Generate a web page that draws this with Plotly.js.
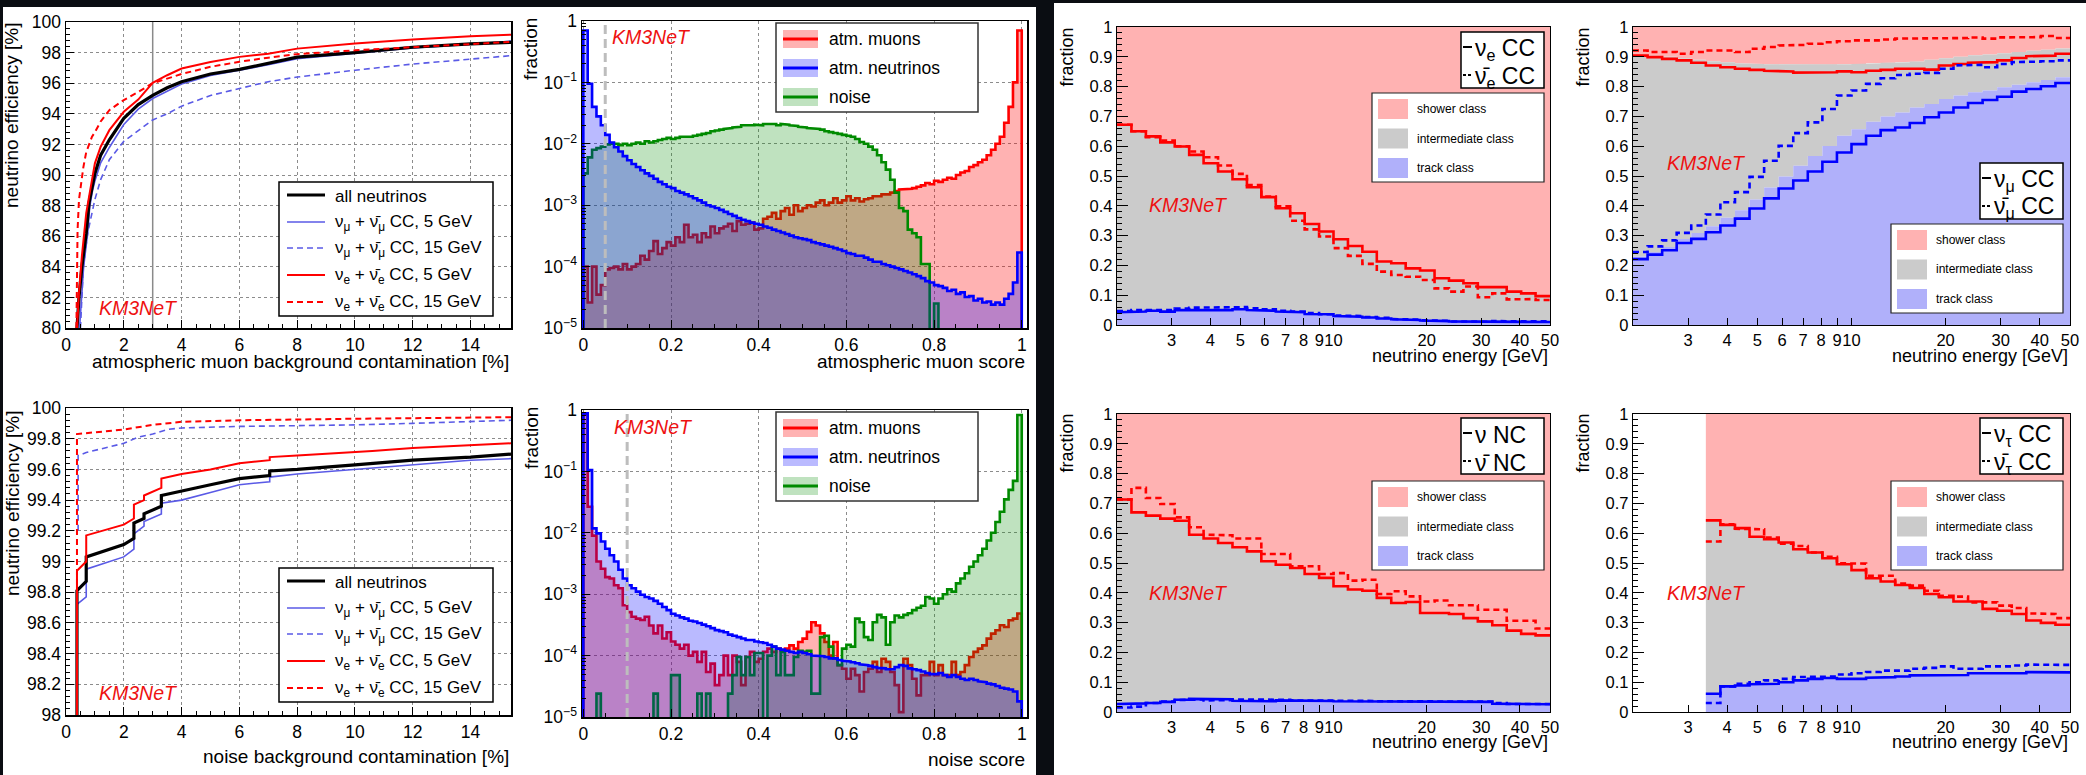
<!DOCTYPE html>
<html>
<head>
<meta charset="utf-8">
<script src="https://cdn.plot.ly/plotly-3.0.1.min.js"></script>
<style>
  html, body { margin: 0; padding: 0; background: #0a0d12; }
  #chart { width: 2086px; height: 775px; }
</style>
</head>
<body>
<div id="chart"></div>
<script>
// ---------------- ROC curves vs. atmospheric muon contamination [%] ----------------
const rocMuAllX    = [0.38,0.45,0.55,0.7,0.8,0.9,1.0,1.2,1.5,2.0,2.5,3.0,3.5,4,5,6,7,8,10,12,14,15.4];
const rocMuAllY    = [80,82,84,86.2,88.2,89.3,90.1,91.3,92.3,93.7,94.6,95.2,95.7,96.1,96.6,96.9,97.3,97.7,98.0,98.35,98.57,98.67];
const rocMuNumu5X  = [0.47,0.55,0.61,0.75,0.82,0.92,1.0,1.2,1.5,2.0,2.5,3.0,3.5,4,5,6,7,8,10,12,14,15.4];
const rocMuNumu5Y  = [80,82,84,86.2,87.9,89.0,89.6,90.8,91.8,93.3,94.3,95.0,95.5,95.95,96.5,96.85,97.2,97.6,97.95,98.3,98.55,98.75];
const rocMuNumu15X = [0.5,0.6,0.75,0.9,1.0,1.2,1.5,2.0,2.5,3.0,3.5,4,5,6,7,8,10,12,14,15.4];
const rocMuNumu15Y = [80,84,86.2,87.5,88.4,89.7,91.0,92.2,92.9,93.6,94.0,94.5,95.2,95.65,96.1,96.4,96.85,97.25,97.6,97.8];
const rocMuNue5X   = [0.38,0.45,0.55,0.7,0.8,0.9,1.0,1.2,1.5,2.0,2.5,3.0,3.5,4,5,6,7,8,10,12,14,15.4];
const rocMuNue5Y   = [80,82.3,84.7,87.5,88.6,89.7,90.76,91.85,92.93,94.13,94.93,96.02,96.52,96.96,97.39,97.72,97.93,98.26,98.59,98.85,99.07,99.17];
const rocMuNue15X  = [0.36,0.4,0.45,0.5,0.6,0.7,0.8,0.9,1.0,1.2,1.5,2.0,2.5,3.0,3.5,4,5,6,7,8,10,12,14,15.4];
const rocMuNue15Y  = [80,86.4,88.4,89.2,90.5,91.5,92.07,92.5,92.8,93.5,94.24,94.9,95.43,96.0,96.3,96.6,97.07,97.4,97.67,97.9,98.15,98.37,98.59,98.7];

// ---------------- ROC curves vs. noise contamination [%] ----------------
const rocNoiseStepX = [0.38,0.38,0.7,0.7,2.0,2.35,2.35,2.7,2.7,3.3,3.3,4,5,6,7.05,7.05,8,10,10.6,12,14,15.4];
const rocNoiseAllY    = [98.0,98.81,98.87,99.03,99.11,99.15,99.25,99.28,99.31,99.36,99.43,99.46,99.5,99.54,99.56,99.59,99.6,99.63,99.64,99.66,99.68,99.7];
const rocNoiseNumu5Y  = [98.0,98.72,98.77,98.95,99.03,99.08,99.18,99.23,99.26,99.31,99.38,99.4,99.45,99.5,99.52,99.55,99.57,99.6,99.61,99.63,99.66,99.67];
const rocNoiseNue5Y   = [98.0,98.94,99.0,99.17,99.24,99.28,99.37,99.4,99.43,99.48,99.54,99.57,99.6,99.64,99.66,99.68,99.69,99.71,99.72,99.74,99.76,99.77];
const rocNoiseNumu15X = [0.42,0.42,0.7,2,2.5,3,3.5,4,6,10,12,14,15.4];
const rocNoiseNumu15Y = [99.2,99.69,99.71,99.77,99.81,99.83,99.86,99.87,99.88,99.89,99.9,99.91,99.92];
const rocNoiseNue15X  = [0.38,0.38,2,3,4,6,10,14,15.4];
const rocNoiseNue15Y  = [98.0,99.83,99.86,99.89,99.91,99.92,99.93,99.94,99.94];

// ---------------- score distributions (100 bins in [0,1], normalised) ----------------
const muScoreMu = [
  1e-4,2.6e-5,1e-4,3.5e-5,5e-5,9e-5,9.5e-5,1e-4,9e-5,1.1e-4,
  9e-5,1e-4,1.1e-4,1.5e-4,1.3e-4,1.8e-4,2.6e-4,1.6e-4,2e-4,2.5e-4,
  2.2e-4,3e-4,2.5e-4,4.8e-4,3e-4,3.3e-4,2.5e-4,3.5e-4,3e-4,4.5e-4,
  3.5e-4,4.2e-4,4.5e-4,5e-4,3.8e-4,5.5e-4,4.8e-4,5e-4,5.2e-4,4e-4,
  4.2e-4,6e-4,6.5e-4,7.5e-4,6e-4,8e-4,9e-4,7e-4,1e-3,8e-4,
  9e-4,1e-3,9.5e-4,1.1e-3,1.2e-3,1e-3,1.1e-3,1.3e-3,1.1e-3,1.2e-3,
  1.4e-3,1.2e-3,1.3e-3,1.15e-3,1.25e-3,1.3e-3,1.4e-3,1.4e-3,1.5e-3,1.5e-3,
  1.6e-3,1.7e-3,1.8e-3,1.8e-3,1.85e-3,1.9e-3,2e-3,2.1e-3,2.3e-3,2.2e-3,
  2.5e-3,2.4e-3,2.6e-3,2.8e-3,2.7e-3,3.1e-3,3.4e-3,3.6e-3,4.2e-3,4.5e-3,
  5e-3,5.5e-3,6.5e-3,8e-3,1e-2,1.3e-2,2.2e-2,4e-2,1e-1,7e-1];
const muScoreNu = [
  0.7,0.095,0.04,0.028,0.02,0.014,0.0105,0.0088,0.0075,0.0063,
  0.0054,0.0047,0.0042,0.0037,0.0033,0.003,0.0027,0.0024,0.0022,0.002,
  0.0019,0.0017,0.0016,0.0015,0.0014,0.0013,0.0012,0.0011,0.001,0.00095,
  0.0009,0.00084,0.00078,0.00072,0.00067,0.00062,0.00058,0.00055,0.00052,0.0005,
  0.00048,0.00045,0.00043,0.0004,0.00038,0.00036,0.00034,0.00032,0.0003,0.00029,
  0.00028,0.00027,0.00025,0.00024,0.00023,0.00022,0.00021,0.0002,0.00019,0.00018,
  0.000166,0.00016,0.00015,0.00015,0.00014,0.00013,0.00012,0.00012,0.00011,0.000105,
  0.0001,0.000095,0.00009,0.000085,0.00008,0.000075,0.00007,0.000065,0.000058,0.000055,
  0.00005,0.000048,0.000045,0.00004,0.000042,0.000036,0.000038,0.000032,0.000033,0.000028,
  0.00003,0.000026,0.000027,0.000024,0.000026,0.000024,0.00003,0.000036,0.000055,0.00017];
const muScoreNoise = [
  3.3e-3,6e-3,8e-3,8.5e-3,9e-3,9.8e-3,1e-2,1e-2,9.5e-3,1e-2,
  9.5e-3,1e-2,1.05e-2,1e-2,1.1e-2,1.05e-2,1.1e-2,1.15e-2,1.2e-2,1.25e-2,
  1.2e-2,1.25e-2,1.3e-2,1.3e-2,1.3e-2,1.35e-2,1.4e-2,1.45e-2,1.5e-2,1.6e-2,
  1.65e-2,1.7e-2,1.75e-2,1.8e-2,1.85e-2,1.9e-2,2e-2,1.95e-2,2e-2,2.05e-2,
  2e-2,2.1e-2,2.05e-2,2.1e-2,2e-2,2.1e-2,2.05e-2,2e-2,1.95e-2,1.9e-2,
  1.85e-2,1.8e-2,1.8e-2,1.75e-2,1.7e-2,1.6e-2,1.55e-2,1.5e-2,1.45e-2,1.4e-2,
  1.35e-2,1.3e-2,1.2e-2,1.07e-2,1e-2,9e-3,8e-3,6.5e-3,5e-3,3.8e-3,
  2.6e-3,1.6e-3,9e-4,8e-4,4e-4,3.5e-4,3e-4,1.1e-4,1.1e-4,0,
  2.5e-5,0,0,0,0,0,0,0,0,0,
  0,0,0,0,0,0,0,0,0,0];

const noiseScoreMu = [
  0.85,2.65e-2,9e-3,3.4e-3,2.6e-3,1.9e-3,1.8e-3,1.4e-3,1.25e-3,6.6e-4,
  5.1e-4,4.3e-4,4e-4,3.8e-4,4.3e-4,3.1e-4,2.3e-4,3.1e-4,1.9e-4,2.4e-4,
  1.7e-4,1.5e-4,1.3e-4,1.5e-4,1e-4,1.15e-4,7.9e-5,1.15e-4,5.4e-5,7.4e-5,
  3.3e-5,4.8e-5,1e-4,4.8e-5,1e-4,7.9e-5,3.3e-5,9.5e-5,1.15e-4,7.9e-5,
  8.9e-5,1.15e-4,1.3e-4,1.15e-4,1.3e-4,1.22e-4,1.3e-4,1.47e-4,1.3e-4,1.67e-4,
  1.89e-4,2.43e-4,3.5e-4,3.1e-4,2.3e-4,1.67e-4,1e-4,1.67e-4,7e-5,6.1e-5,
  4.2e-5,6.1e-5,4.8e-5,2.6e-5,5.4e-5,6.1e-5,7.9e-5,5.4e-5,8.9e-5,7.9e-5,
  5.4e-5,3.3e-5,1.2e-5,8.9e-5,7e-5,4.2e-5,2.25e-5,4.8e-5,4.8e-5,7.9e-5,
  4.8e-5,7e-5,4.8e-5,4.8e-5,7.9e-5,4.8e-5,5.4e-5,7e-5,9.5e-5,1.15e-4,
  1.3e-4,1.47e-4,1.89e-4,2.28e-4,2.59e-4,3.12e-4,2.93e-4,3.77e-4,4e-4,4.84e-4];
const noiseScoreNu = [
  0.88,0.105,0.0118,0.0098,0.0072,0.0055,0.0043,0.0034,0.0025,0.0018,
  0.0014,0.00125,0.0011,0.00098,0.0009,0.00085,0.00078,0.0007,0.00062,0.00055,
  0.00048,0.00045,0.00042,0.0004,0.00037,0.00036,0.00034,0.00032,0.0003,0.00028,
  0.00026,0.00025,0.00024,0.00022,0.00021,0.0002,0.00019,0.00018,0.00018,0.00017,
  1.65e-4,1.6e-4,1.5e-4,1.4e-4,1.3e-4,1.25e-4,1.2e-4,1.15e-4,1.1e-4,1.15e-4,
  1.1e-4,1.05e-4,1e-4,1e-4,9.8e-5,9.5e-5,9e-5,9e-5,8.5e-5,8.2e-5,
  8e-5,7.8e-5,7.5e-5,7.2e-5,7e-5,6.8e-5,6.5e-5,6.3e-5,6.2e-5,6e-5,
  6e-5,6.5e-5,7e-5,6.8e-5,6.2e-5,6e-5,5.8e-5,5.5e-5,5.2e-5,5e-5,
  5e-5,5.2e-5,4.8e-5,4.5e-5,4.8e-5,4.5e-5,4.2e-5,4e-5,4.2e-5,4e-5,
  3.8e-5,3.7e-5,3.5e-5,3.4e-5,3.2e-5,3e-5,2.9e-5,2.8e-5,2.6e-5,1.8e-5];
const noiseScoreNoise = [
  0,0,0,2.4e-5,0,0,0,0,0,0,
  0,0,0,0,0,0,2.4e-5,0,0,0,
  4.8e-5,4.8e-5,0,0,0,0,2.4e-5,0,2.4e-5,0,
  0,0,0,2.4e-5,4.8e-5,9.5e-5,4.8e-5,9.5e-5,4.8e-5,1.1e-4,
  1.1e-4,0,1e-4,1.4e-4,4.8e-5,1.15e-4,4.8e-5,4.8e-5,9.5e-5,1.2e-4,
  1.15e-4,1.2e-4,2.4e-5,2.4e-5,2e-4,2.1e-4,1.4e-4,9e-5,7e-5,1.3e-4,
  1.5e-4,1.4e-4,4e-4,3.5e-4,2e-4,1.8e-4,3.5e-4,4.6e-4,4.2e-4,1.5e-4,
  3.5e-4,4.5e-4,4.2e-4,4.6e-4,4.9e-4,5.5e-4,6e-4,6.5e-4,9e-4,8.5e-4,
  7e-4,8.5e-4,1e-3,1.2e-3,1.1e-3,1.5e-3,1.8e-3,2.2e-3,2.8e-3,3.4e-3,
  4.3e-3,5.5e-3,7.5e-3,1e-2,1.5e-2,2.2e-2,3.5e-2,5e-2,7e-2,0.83];

// ---------------- class fractions vs. neutrino energy (30 log bins, 2-50 GeV) ----------------
const energyEdges = [2.0,2.227,2.479,2.759,3.072,3.420,3.807,4.239,4.719,5.254,5.848,6.511,7.248,8.069,8.983,10.0,
                     11.133,12.394,13.797,15.361,17.100,19.037,21.194,23.595,26.268,29.240,32.553,36.239,40.345,44.915,50.0];
const energyTickVals = [3,4,5,6,7,8,9,10,20,30,40,50];
const energyTickText = ['3','4','5','6','7','8','9','10','20','30','40','50'];

// nu_e CC : shower edge = 1 - shower fraction; track = track fraction
const nueShowerEdgeNu    = [0.672,0.650,0.633,0.613,0.599,0.571,0.543,0.515,0.489,0.462,0.429,0.392,0.375,0.339,0.314,0.288,0.265,0.246,0.213,0.207,0.190,0.183,0.157,0.149,0.140,0.127,0.127,0.112,0.106,0.097];
const nueShowerEdgeNubar = [0.672,0.650,0.630,0.619,0.600,0.582,0.563,0.535,0.507,0.470,0.431,0.398,0.350,0.321,0.297,0.258,0.232,0.205,0.179,0.168,0.162,0.151,0.123,0.112,0.129,0.093,0.106,0.086,0.087,0.084];
const nueTrackNu         = [0.043,0.045,0.048,0.045,0.050,0.050,0.050,0.050,0.053,0.050,0.048,0.045,0.043,0.037,0.036,0.030,0.028,0.025,0.022,0.019,0.017,0.015,0.013,0.012,0.011,0.010,0.011,0.012,0.010,0.010];
const nueTrackNubar      = [0.047,0.050,0.052,0.050,0.055,0.058,0.058,0.058,0.060,0.056,0.053,0.048,0.045,0.040,0.036,0.032,0.030,0.027,0.024,0.020,0.018,0.016,0.014,0.012,0.010,0.011,0.013,0.012,0.011,0.012];

// nu_mu CC
const numuShowerEdgeNu    = [0.904,0.899,0.893,0.888,0.880,0.871,0.865,0.860,0.856,0.853,0.851,0.847,0.846,0.848,0.851,0.848,0.853,0.856,0.860,0.860,0.857,0.871,0.876,0.880,0.882,0.888,0.896,0.902,0.904,0.910];
const numuShowerEdgeNubar = [0.921,0.916,0.916,0.910,0.916,0.921,0.921,0.916,0.927,0.933,0.938,0.940,0.944,0.949,0.952,0.955,0.955,0.958,0.961,0.963,0.961,0.963,0.963,0.965,0.961,0.965,0.966,0.966,0.970,0.963];
const numuTrackNu         = [0.221,0.236,0.251,0.275,0.289,0.311,0.334,0.357,0.391,0.425,0.458,0.485,0.515,0.548,0.579,0.607,0.635,0.654,0.663,0.678,0.697,0.713,0.730,0.745,0.755,0.766,0.783,0.792,0.801,0.812];
const numuTrackNubar      = [0.245,0.264,0.284,0.309,0.334,0.371,0.412,0.446,0.497,0.551,0.601,0.644,0.680,0.725,0.770,0.787,0.809,0.828,0.839,0.843,0.846,0.860,0.871,0.873,0.865,0.876,0.882,0.884,0.885,0.888];
const numuShowerEdgeAll   = [0.905,0.903,0.900,0.895,0.890,0.885,0.882,0.878,0.876,0.875,0.874,0.874,0.873,0.873,0.875,0.876,0.878,0.880,0.882,0.884,0.890,0.895,0.900,0.905,0.908,0.912,0.916,0.920,0.924,0.928];
const numuTrackAll        = [0.230,0.245,0.262,0.289,0.309,0.331,0.360,0.385,0.421,0.461,0.498,0.534,0.567,0.601,0.635,0.657,0.682,0.700,0.713,0.730,0.742,0.758,0.770,0.781,0.787,0.798,0.806,0.815,0.822,0.831];

// nu NC
const ncShowerEdgeNu    = [0.713,0.670,0.659,0.649,0.642,0.595,0.582,0.567,0.553,0.539,0.506,0.494,0.483,0.463,0.450,0.422,0.411,0.407,0.383,0.366,0.369,0.332,0.332,0.329,0.315,0.304,0.291,0.273,0.262,0.257];
const ncShowerEdgeNubar = [0.713,0.752,0.718,0.698,0.653,0.620,0.595,0.593,0.582,0.582,0.530,0.530,0.489,0.489,0.463,0.466,0.441,0.444,0.396,0.405,0.388,0.371,0.374,0.358,0.358,0.343,0.343,0.306,0.306,0.280];
const ncTrackNu         = [0.027,0.029,0.030,0.034,0.041,0.044,0.045,0.043,0.038,0.038,0.036,0.039,0.038,0.038,0.037,0.036,0.036,0.036,0.036,0.036,0.036,0.035,0.036,0.036,0.035,0.034,0.028,0.027,0.026,0.026];
const ncTrackNubar      = [0.015,0.018,0.030,0.035,0.040,0.042,0.039,0.040,0.042,0.040,0.040,0.041,0.039,0.038,0.038,0.039,0.039,0.037,0.036,0.037,0.036,0.036,0.037,0.035,0.037,0.035,0.030,0.027,0.025,0.027];

// nu_tau CC (no events below 3.4 GeV)
const tauShowerEdgeNu    = [null,null,null,null,null,0.643,0.628,0.617,0.588,0.580,0.569,0.546,0.535,0.516,0.496,0.476,0.449,0.438,0.426,0.416,0.396,0.385,0.371,0.371,0.346,0.340,0.329,0.307,0.299,0.293];
const tauShowerEdgeNubar = [null,null,null,null,null,0.572,0.630,0.615,0.613,0.585,0.565,0.557,0.535,0.521,0.499,0.498,0.457,0.457,0.431,0.424,0.407,0.390,0.387,0.368,0.368,0.357,0.349,0.331,0.329,0.315];
const tauTrackNu         = [null,null,null,null,null,0.061,0.086,0.089,0.093,0.095,0.100,0.106,0.111,0.114,0.111,0.111,0.115,0.117,0.119,0.123,0.125,0.125,0.124,0.130,0.128,0.128,0.130,0.134,0.133,0.133];
const tauTrackNubar      = [null,null,null,null,null,0.030,0.086,0.095,0.100,0.106,0.111,0.117,0.119,0.119,0.126,0.130,0.134,0.139,0.139,0.145,0.148,0.153,0.145,0.145,0.153,0.153,0.156,0.159,0.159,0.158];

// ---------------- drawing ----------------
const W = 2086, H = 775;
const FONT = '"Liberation Sans", Arial, Helvetica, sans-serif';
const px = v => v / W;
const py = v => 1 - v / H;
const NUBAR = 'ν\u0304';

const C = {
  red: '#ff0000', blue: '#0000ff', green: '#008a00', black: '#000000', rocBlue: '#5a5ae6',
  redFill: 'rgba(255,0,0,0.30)', blueFill: 'rgba(0,0,255,0.27)', greenFill: 'rgba(0,140,0,0.25)',
  shower: '#ffb2b2', inter: '#cbcbcb', track: '#b0b0fa', grid: '#8c8c8c'
};

const traces = [];
const shapes = [];
const annotations = [];

// page background panels
shapes.push({type:'rect', xref:'paper', yref:'paper', x0:px(3), x1:px(1036), y0:0, y1:py(7), fillcolor:'#ffffff', line:{width:0}, layer:'below'});
shapes.push({type:'rect', xref:'paper', yref:'paper', x0:px(1054), x1:1, y0:0, y1:py(3), fillcolor:'#ffffff', line:{width:0}, layer:'below'});

function text(x, y, t, size, opts) {
  annotations.push(Object.assign({
    xref:'paper', yref:'paper', x:px(x), y:py(y), text:t, showarrow:false,
    xanchor:'left', yanchor:'middle', font:{family:FONT, size:size, color:'#000'}
  }, opts || {}));
}
function boxPx(x0, y0, x1, y1, fill, lineColor, lw) {
  shapes.push({type:'rect', xref:'paper', yref:'paper', x0:px(x0), x1:px(x1), y0:py(y1), y1:py(y0),
               fillcolor:fill, line:{color:lineColor || 'rgba(0,0,0,0)', width:lw || 0}, layer:'above'});
}
function segPx(x0, y0, x1, y1, color, width, dash) {
  shapes.push({type:'line', xref:'paper', yref:'paper', x0:px(x0), x1:px(x1), y0:py(y0), y1:py(y1),
               line:{color:color, width:width, dash:dash || 'solid'}, layer:'above'});
}
function km3net(x, y) {
  text(x, y, '<i>KM3NeT</i>', 19.5, {font:{family:FONT, size:19.5, color:'#ee1111'}});
}

// ---- ROC panels ----
function rocLine(ax, x, y, color, width, dash) {
  traces.push({x:x, y:y, xaxis:'x'+ax, yaxis:'y'+ax, mode:'lines', hoverinfo:'skip',
               line:{color:color, width:width, dash:dash || 'solid'}});
}
rocLine('', rocMuNumu15X, rocMuNumu15Y, C.rocBlue, 1.6, '6px,4px');
rocLine('', rocMuNumu5X, rocMuNumu5Y, C.rocBlue, 1.6);
rocLine('', rocMuAllX, rocMuAllY, C.black, 3.2);
rocLine('', rocMuNue5X, rocMuNue5Y, C.red, 2);
rocLine('', rocMuNue15X, rocMuNue15Y, C.red, 2, '6px,4px');

rocLine('3', rocNoiseNumu15X, rocNoiseNumu15Y, C.rocBlue, 1.6, '6px,4px');
rocLine('3', rocNoiseStepX, rocNoiseNumu5Y, C.rocBlue, 1.6);
rocLine('3', rocNoiseStepX, rocNoiseAllY, C.black, 3.2);
rocLine('3', rocNoiseStepX, rocNoiseNue5Y, C.red, 2);
rocLine('3', rocNoiseNue15X, rocNoiseNue15Y, C.red, 2, '6px,4px');

// 3% working point marker
shapes.push({type:'line', xref:'x', yref:'y domain', x0:3, x1:3, y0:0, y1:1, line:{color:'#8a8a8a', width:1.5}, layer:'below'});

function rocLegend(top) {
  const rows = [13, 40, 66, 93, 120].map(d => top + d);
  boxPx(279, top, 493, top + 134, '#ffffff', '#000', 1.5);
  const items = [
    ['all neutrinos', C.black, 3.2, 'solid'],
    ['ν<sub>μ</sub> + ' + NUBAR + '<sub>μ</sub> CC, 5 GeV', C.rocBlue, 1.6, 'solid'],
    ['ν<sub>μ</sub> + ' + NUBAR + '<sub>μ</sub> CC, 15 GeV', C.rocBlue, 1.6, '6px,4px'],
    ['ν<sub>e</sub> + ' + NUBAR + '<sub>e</sub> CC, 5 GeV', C.red, 2, 'solid'],
    ['ν<sub>e</sub> + ' + NUBAR + '<sub>e</sub> CC, 15 GeV', C.red, 2, '6px,4px']
  ];
  items.forEach((it, i) => {
    segPx(287, rows[i], 325, rows[i], it[1], it[2], it[3]);
    text(333, rows[i] + 1, it[0], 17);
  });
}
rocLegend(182);
rocLegend(568);
km3net(97, 308);
km3net(97, 693);

// ---- score histogram panels (log scale) ----
const scoreEdges = Array.from({length: 101}, (_, i) => i / 100);
const LOG_FLOOR = 1e-7;
function histPoly(edges, vals) {
  const x = [edges[0]], y = [LOG_FLOOR];
  vals.forEach((v, i) => {
    const yy = v > 0 ? v : LOG_FLOOR;
    x.push(edges[i], edges[i + 1]); y.push(yy, yy);
  });
  x.push(edges[edges.length - 1]); y.push(LOG_FLOOR);
  return {x, y};
}
function histTrace(ax, vals, lineColor, fillColor) {
  const p = histPoly(scoreEdges, vals);
  traces.push({x:p.x, y:p.y, xaxis:'x'+ax, yaxis:'y'+ax, mode:'lines', fill:'toself',
               fillcolor:fillColor, line:{color:lineColor, width:2.6}, hoverinfo:'skip'});
}
histTrace('2', muScoreMu, C.red, C.redFill);
histTrace('2', muScoreNoise, C.green, C.greenFill);
histTrace('2', muScoreNu, C.blue, C.blueFill);
histTrace('4', noiseScoreMu, C.red, C.redFill);
histTrace('4', noiseScoreNoise, C.green, C.greenFill);
histTrace('4', noiseScoreNu, C.blue, C.blueFill);

// score cut values
shapes.push({type:'line', xref:'x2', yref:'y2 domain', x0:0.05, x1:0.05, y0:0, y1:1, line:{color:'#bdbdbd', width:3, dash:'9px,5px'}, layer:'above'});
shapes.push({type:'line', xref:'x4', yref:'y4 domain', x0:0.1, x1:0.1, y0:0, y1:1, line:{color:'#bdbdbd', width:3, dash:'9px,5px'}, layer:'above'});

function histLegend(top) {
  boxPx(776, top, 978, top + 89, '#ffffff', '#333', 1.5);
  const items = [['atm. muons', C.red, C.redFill], ['atm. neutrinos', C.blue, C.blueFill], ['noise', C.green, C.greenFill]];
  items.forEach((it, i) => {
    const yc = top + 16 + i * 29;
    boxPx(783, yc - 9, 818, yc + 9, it[2]);
    segPx(783, yc, 818, yc, it[1], 3);
    text(827, yc, it[0], 17.5);
  });
}
histLegend(23);
histLegend(412);
km3net(610, 37);
km3net(612, 427);

// ---- energy panels ----
function level(v, i) { return Array.isArray(v) ? v[i] : v; }
function band(ref, lower, upper) {
  const tx = [], ty = [], bx = [], by = [];
  ref.forEach((r, i) => {
    if (r === null) return;
    tx.push(energyEdges[i], energyEdges[i + 1]); ty.push(level(upper, i), level(upper, i));
    bx.push(energyEdges[i], energyEdges[i + 1]); by.push(level(lower, i), level(lower, i));
  });
  return {x: tx.concat(bx.reverse()), y: ty.concat(by.reverse())};
}
function stepLine(vals) {
  const x = [], y = [];
  vals.forEach((v, i) => {
    if (v === null) return;
    x.push(energyEdges[i], energyEdges[i + 1]); y.push(v, v);
  });
  return {x, y};
}
const energyPanels = [
  {ax:'5', fillEdge:nueShowerEdgeNu,  fillTrack:nueTrackNu,  edgeNu:nueShowerEdgeNu,  edgeNubar:nueShowerEdgeNubar,  trackNu:nueTrackNu,  trackNubar:nueTrackNubar},
  {ax:'6', fillEdge:numuShowerEdgeAll, fillTrack:numuTrackAll, edgeNu:numuShowerEdgeNu, edgeNubar:numuShowerEdgeNubar, trackNu:numuTrackNu, trackNubar:numuTrackNubar},
  {ax:'7', fillEdge:ncShowerEdgeNu,   fillTrack:ncTrackNu,   edgeNu:ncShowerEdgeNu,   edgeNubar:ncShowerEdgeNubar,   trackNu:ncTrackNu,   trackNubar:ncTrackNubar},
  {ax:'8', fillEdge:tauShowerEdgeNu,  fillTrack:tauTrackNu,  edgeNu:tauShowerEdgeNu,  edgeNubar:tauShowerEdgeNubar,  trackNu:tauTrackNu,  trackNubar:tauTrackNubar}
];
energyPanels.forEach(p => {
  const common = {xaxis:'x'+p.ax, yaxis:'y'+p.ax, hoverinfo:'skip'};
  const fills = [
    [band(p.fillEdge, p.fillEdge, 1), C.shower],
    [band(p.fillEdge, p.fillTrack, p.fillEdge), C.inter],
    [band(p.fillEdge, 0, p.fillTrack), C.track]
  ];
  fills.forEach(f => traces.push(Object.assign({x:f[0].x, y:f[0].y, mode:'lines', fill:'toself',
    fillcolor:f[1], line:{width:0, color:f[1]}}, common)));
  const lines = [
    [p.edgeNu, C.red, 'solid'], [p.edgeNubar, C.red, '6px,4px'],
    [p.trackNu, C.blue, 'solid'], [p.trackNubar, C.blue, '6px,4px']
  ];
  lines.forEach(l => {
    const s = stepLine(l[0]);
    traces.push(Object.assign({x:s.x, y:s.y, mode:'lines', line:{color:l[1], width:2.6, dash:l[2]}}, common));
  });
});

function flavourLegend(x0, top, lab1, lab2) {
  boxPx(x0, top, x0 + 83, top + 56, '#ffffff', '#000', 1.5);
  segPx(x0 + 2, top + 15, x0 + 11, top + 15, '#000', 2);
  segPx(x0 + 2, top + 43, x0 + 5, top + 43, '#000', 2);
  segPx(x0 + 7, top + 43, x0 + 10, top + 43, '#000', 2);
  text(x0 + 12, top + 17, lab1, 23);
  text(x0 + 12, top + 45, lab2, 23);
}
function classLegend(x0, top) {
  boxPx(x0, top, x0 + 172, top + 89, '#ffffff', '#222', 1.2);
  [['shower class', C.shower], ['intermediate class', C.inter], ['track class', C.track]].forEach((it, i) => {
    const yc = top + 16 + i * 29.5;
    boxPx(x0 + 6, yc - 10, x0 + 36, yc + 10, it[1]);
    text(x0 + 43, yc, it[0], 12);
  });
}
flavourLegend(1461, 32, 'ν<sub>e</sub> CC', NUBAR + '<sub>e</sub> CC');
classLegend(1372, 93);
flavourLegend(1980, 163, 'ν<sub>μ</sub> CC', NUBAR + '<sub>μ</sub> CC');
classLegend(1891, 224);
flavourLegend(1461, 418, 'ν NC', NUBAR + ' NC');
classLegend(1372, 481);
flavourLegend(1980, 418, 'ν<sub>τ</sub> CC', NUBAR + '<sub>τ</sub> CC');
classLegend(1891, 481);
km3net(1147, 205);
km3net(1665, 163);
km3net(1147, 593);
km3net(1665, 593);

// ---- axis titles ----
const T1 = 19, T2 = 18;
text(511, 361, 'atmospheric muon background contamination [%]', T1, {xanchor:'right'});
text(1027, 361, 'atmospheric muon score', T1, {xanchor:'right'});
text(511, 756, 'noise background contamination [%]', T1, {xanchor:'right'});
text(1027, 759, 'noise score', T1, {xanchor:'right'});
[[1550, 356], [2070, 356], [1550, 742], [2070, 742]].forEach(p => text(p[0], p[1], 'neutrino energy [GeV]', T2, {xanchor:'right'}));
text(12, 20, 'neutrino efficiency [%]', T1, {xanchor:'center', yanchor:'top', textangle:-90});
text(12, 408, 'neutrino efficiency [%]', T1, {xanchor:'center', yanchor:'top', textangle:-90});
text(531, 16, 'fraction', T1, {xanchor:'center', yanchor:'top', textangle:-90});
text(531, 405, 'fraction', T1, {xanchor:'center', yanchor:'top', textangle:-90});
[[1066, 26], [1582, 26], [1066, 412], [1582, 412]].forEach(p => text(p[0], p[1], 'fraction', T2, {xanchor:'center', yanchor:'top', textangle:-90}));

// ---- axes ----
function axis(extra) {
  return Object.assign({
    showline:true, linecolor:'#000', linewidth:1.5, mirror:true,
    ticks:'inside', tickcolor:'#000', tickwidth:1, ticklen:8, tickangle:0,
    zeroline:false, showgrid:false, fixedrange:true,
    tickfont:{family:FONT, size:17.5, color:'#000'}
  }, extra);
}
const dotGrid = {showgrid:true, gridcolor:C.grid, gridwidth:1, griddash:'dot'};
const decades = [1e-5, 1e-4, 1e-3, 1e-2, 1e-1, 1];
const decadeText = ['10<sup>−5</sup>', '10<sup>−4</sup>', '10<sup>−3</sup>', '10<sup>−2</sup>', '10<sup>−1</sup>', '1'];
const logMinor = [];
for (let e = -5; e < 0; e++) for (let m = 2; m <= 9; m++) logMinor.push(m * Math.pow(10, e));

const rocX = (dom, anchor) => axis(Object.assign({domain:dom, anchor:anchor, range:[0, 15.4], tick0:0, dtick:2,
  minor:{dtick:0.5, ticks:'inside', ticklen:4, tickcolor:'#000', showgrid:false}}, dotGrid));
const scoreX = (dom, anchor) => axis(Object.assign({domain:dom, anchor:anchor, range:[-0.003, 1.012], tick0:0, dtick:0.2,
  minor:{dtick:0.05, tick0:0, ticks:'inside', ticklen:4, tickcolor:'#000', showgrid:false}}, dotGrid));
const scoreY = (dom, anchor) => axis(Object.assign({domain:dom, anchor:anchor, type:'log', range:[-5, 0],
  tickmode:'array', tickvals:decades, ticktext:decadeText,
  minor:{tickmode:'array', tickvals:logMinor, ticks:'inside', ticklen:4, tickcolor:'#000', showgrid:false}}, dotGrid));
const energyX = (dom, anchor) => axis({domain:dom, anchor:anchor, type:'log', range:[Math.log10(2), Math.log10(50)],
  tickmode:'array', tickvals:energyTickVals, ticktext:energyTickText, ticklen:7, linewidth:1.2,
  tickfont:{family:FONT, size:16.5, color:'#000'}});
const energyY = (dom, anchor) => axis({domain:dom, anchor:anchor, range:[0, 1], tick0:0, dtick:0.1, ticklen:11, linewidth:1.2,
  tickfont:{family:FONT, size:16.5, color:'#000'},
  minor:{dtick:0.02, tick0:0, ticks:'inside', ticklen:5, tickcolor:'#000', showgrid:false}});

const layout = {
  width:W, height:H, margin:{l:0, r:0, t:0, b:0},
  paper_bgcolor:'#0a0d12', plot_bgcolor:'#ffffff', showlegend:false,
  font:{family:FONT, color:'#000'},
  xaxis:  rocX([px(66), px(511)], 'y'),
  yaxis:  axis(Object.assign({domain:[py(328), py(22)], anchor:'x', range:[80, 100], dtick:2,
            minor:{dtick:0.4, ticks:'inside', ticklen:4, tickcolor:'#000', showgrid:false}}, dotGrid)),
  xaxis2: scoreX([px(582), px(1027)], 'y2'),
  yaxis2: scoreY([py(328), py(21)], 'x2'),
  xaxis3: rocX([px(66), px(511)], 'y3'),
  yaxis3: axis(Object.assign({domain:[py(715), py(408)], anchor:'x3', range:[98, 100], dtick:0.2,
            minor:{dtick:0.04, ticks:'inside', ticklen:4, tickcolor:'#000', showgrid:false}}, dotGrid)),
  xaxis4: scoreX([px(582), px(1027)], 'y4'),
  yaxis4: scoreY([py(717), py(410)], 'x4'),
  xaxis5: energyX([px(1117), px(1550)], 'y5'),
  yaxis5: energyY([py(325), py(27)], 'x5'),
  xaxis6: energyX([px(1633), px(2070)], 'y6'),
  yaxis6: energyY([py(325), py(27)], 'x6'),
  xaxis7: energyX([px(1117), px(1550)], 'y7'),
  yaxis7: energyY([py(712), py(414)], 'x7'),
  xaxis8: energyX([px(1633), px(2070)], 'y8'),
  yaxis8: energyY([py(712), py(414)], 'x8'),
  shapes:shapes, annotations:annotations
};

Plotly.newPlot('chart', traces, layout, {staticPlot:true, displayModeBar:false});
</script>
</body>
</html>
